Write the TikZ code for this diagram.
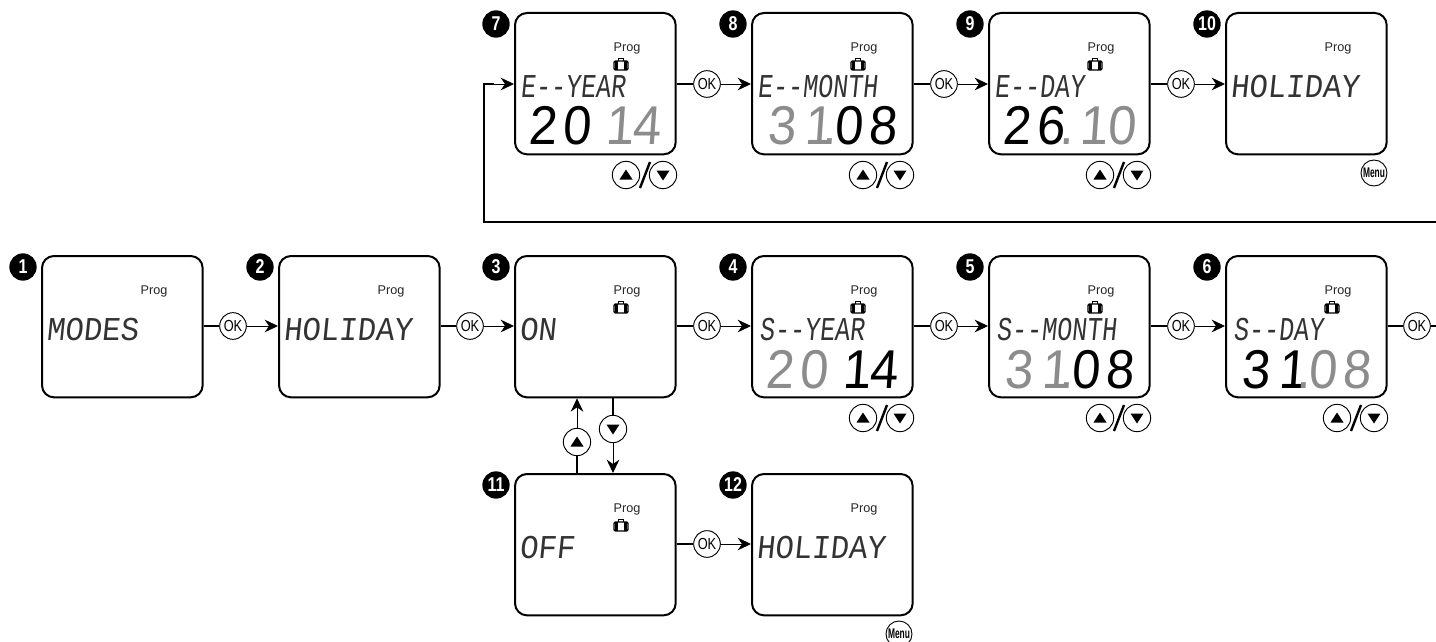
\documentclass[tikz,border=0pt]{standalone}
\usepackage{fontspec}
\setmainfont{Liberation Sans}
\newfontfamily\lcdA[FakeSlant=0.1,FakeStretch=0.75]{Liberation Mono}
\newfontfamily\lcdB[FakeSlant=0.1,FakeStretch=0.92]{Liberation Mono}
\newfontfamily\lcdN[FakeSlant=0.07,FakeStretch=0.93]{Liberation Sans}
\newfontfamily\narrowA[FakeStretch=0.8]{Liberation Sans}
\newfontfamily\narrowB[FakeStretch=0.6]{Liberation Sans}
\usetikzlibrary{arrows.meta,calc}
\definecolor{lcdgray}{gray}{0.55}
\tikzset{
  x=0.75pt,y=-0.75pt,
  screen/.style={draw,line width=1.5pt,rounded corners=9pt,minimum width=120.5pt,minimum height=106pt,anchor=north west,inner sep=0pt},
  badge/.style={circle,fill=black,text=white,minimum size=20.5pt,inner sep=0pt,font=\fontsize{15}{15}\bfseries\narrowA},
  prog/.style={inner sep=0pt,text=black!85,font=\fontsize{9.5}{9.5}\selectfont},
  lcdtext/.style={inner sep=0pt,anchor=west,text=black!80},
  lcdnum/.style={inner sep=0pt,anchor=base west,font=\fontsize{41}{41}\lcdN},
  okbtn/.style={draw,circle,line width=0.7pt,minimum size=20pt,inner sep=0pt,font=\fontsize{12}{12}\narrowA,fill=white},
  btn/.style={draw,circle,line width=0.7pt,minimum size=20.5pt,inner sep=0pt,fill=white},
  menubtn/.style={draw,circle,line width=0.7pt,minimum size=19.5pt,inner sep=0pt,font=\fontsize{10.5}{10.5}\bfseries\narrowB},
  thickl/.style={line width=1.5pt},
  arr/.style={line width=0.7pt,-{Stealth[length=10pt,width=9.5pt]}},
  slash/.style={line width=1.8pt},
  case/.pic={
    \draw[line width=1pt,rounded corners=1pt] (-7,-4) rectangle (7,5);
    \draw[line width=1.6pt] (-4.5,-4) -- (-4.5,5) (4.5,-4) -- (4.5,5);
    \draw[line width=0.9pt] (-2.5,-4) -- (-2.5,-6.5) -- (2.5,-6.5) -- (2.5,-4);
  },
  uptri/.pic={\fill (-6.5,4.5) -- (6.5,4.5) -- (0,-5.5) -- cycle;},
  downtri/.pic={\fill (-6.5,-4.5) -- (6.5,-4.5) -- (0,5.5) -- cycle;},
}
\newcommand\screenbox[4]{%
  \node[screen] (#1) at (#3,#4) {};
  \node[badge] (#1n) at ([shift={(-18,12)}]#1.north west) {#2};
  \node[prog] (#1p) at ([shift={(113,36)}]#1.north west) {Prog};
}
\newcommand\casepic[1]{\pic at ([shift={(107,53)}]#1.north west) {case};}
\newcommand\lcdline[4]{\node[lcdtext] (#1t) at ([shift={(#2,75)}]#1.north west) {\fontsize{25}{25}#3#4};}
\newcommand\updown[1]{%
  \node[btn] (#1u) at ([shift={(112,163)}]#1.north west) {};
  \node[btn] (#1d) at ([shift={(149,163)}]#1.north west) {};
  \pic at (#1u) {uptri};
  \pic at (#1d) {downtri};
  \draw[slash] ([shift={(136,150)}]#1.north west) coordinate (#1s1) -- ([shift={(126,176)}]#1.north west) coordinate (#1s2);
}
% one digit in a cell 34 px wide
\newcommand\dc[1]{\makebox[25.5pt]{#1}}
\newcommand\dotc[1]{\makebox[0pt]{#1}}
\newcommand\numline[2]{\node[lcdnum] (#1v) at ([shift={(11,133)}]#1.north west) {#2};}
% 2014: first pair colour, second pair colour
\newcommand\yearnum[3]{\numline{#1}{\textcolor{#2}{\dc{2}\dc{0}}\textcolor{#3}{\kern7pt\dc{1}\kern-5.5pt\dc{4}}}}
% 31.08 as two runs: "3 1" and ".08"
\newcommand\datenum[3]{%
  \node[lcdnum,text=#2] (#1v) at ([shift={(13,133)}]#1.north west) {\dc{3}\kern2.5pt\dc{1}};
  \node[lcdnum] (#1w) at ([shift={(71,133)}]#1.north west) {\textcolor{lcdgray}{.}\kern-3.5pt\textcolor{#3}{\dc{0}\dc{8}}};
}
\begin{document}
\begin{tikzpicture}
\useasboundingbox (0,0) rectangle (1436,642);
% top row
\screenbox{b7}{7}{514}{12}
\screenbox{b8}{8}{751}{12}
\screenbox{b9}{9}{988}{12}
\screenbox{b10}{10}{1225}{12}
% middle row
\screenbox{b1}{1}{41}{255}
\screenbox{b2}{2}{278}{255}
\screenbox{b3}{3}{514}{255}
\screenbox{b4}{4}{751}{255}
\screenbox{b5}{5}{988}{255}
\screenbox{b6}{6}{1225}{255}
% bottom row
\screenbox{b11}{11}{514}{473}
\screenbox{b12}{12}{751}{473}
% suitcases
\casepic{b3}\casepic{b4}\casepic{b5}\casepic{b6}\casepic{b7}\casepic{b8}\casepic{b9}\casepic{b11}
% lcd text
\lcdline{b1}{5}{\lcdB}{MODES}
\lcdline{b2}{5}{\lcdB}{HOLIDAY}
\lcdline{b3}{5}{\lcdB}{ON}
\lcdline{b4}{8}{\lcdA}{S{-}{-}YEAR}
\lcdline{b5}{8}{\lcdA}{S{-}{-}MONTH}
\lcdline{b6}{8}{\lcdA}{S{-}{-}DAY}
\lcdline{b7}{6}{\lcdA}{E{-}{-}YEAR}
\lcdline{b8}{6}{\lcdA}{E{-}{-}MONTH}
\lcdline{b9}{6}{\lcdA}{E{-}{-}DAY}
\lcdline{b10}{5}{\lcdB}{HOLIDAY}
\lcdline{b11}{5}{\lcdB}{OFF}
\lcdline{b12}{5}{\lcdB}{HOLIDAY}
% numbers
\yearnum{b7}{black}{lcdgray}
\yearnum{b4}{lcdgray}{black}
\datenum{b8}{lcdgray}{black}
\datenum{b5}{lcdgray}{black}
\datenum{b6}{black}{lcdgray}
\numline{b9}{\dc{2}\dc{6}\kern-.75pt\textcolor{lcdgray}{\dotc{.}\kern8pt\dc{1}\kern-5pt\dc{0}}}
% up/down and menu buttons
\updown{b4}\updown{b5}\updown{b6}\updown{b7}\updown{b8}\updown{b9}
\node[menubtn] (m10) at ([shift={(149,161)}]b10.north west) {Menu};
\node[menubtn] (m12) at ([shift={(148,161)}]b12.north west) {Menu};
% OK buttons
\node[okbtn] (k1) at (233,326) {OK};
\node[okbtn] (k2) at (470,326) {OK};
\node[okbtn] (k3) at (707,326) {OK};
\node[okbtn] (k4) at (944,326) {OK};
\node[okbtn] (k5) at (1181,326) {OK};
\node[okbtn] (k6) at (1417,326) {OK};
\node[okbtn] (k7) at (707,84) {OK};
\node[okbtn] (k8) at (944,84) {OK};
\node[okbtn] (k9) at (1181,84) {OK};
\node[okbtn] (k11) at (707,544) {OK};
% connectors
\draw[thickl] (b1.east |- k1) -- (k1);
\draw[arr] (k1) -- (k1 -| b2.west);
\draw[thickl] (b2.east |- k2) -- (k2);
\draw[arr] (k2) -- (k2 -| b3.west);
\draw[thickl] (b3.east |- k3) -- (k3);
\draw[arr] (k3) -- (k3 -| b4.west);
\draw[thickl] (b4.east |- k4) -- (k4);
\draw[arr] (k4) -- (k4 -| b5.west);
\draw[thickl] (b5.east |- k5) -- (k5);
\draw[arr] (k5) -- (k5 -| b6.west);
\draw[thickl] (b6.east |- k6) -- (k6);
\draw[thickl] (b7.east |- k7) -- (k7);
\draw[arr] (k7) -- (k7 -| b8.west);
\draw[thickl] (b8.east |- k8) -- (k8);
\draw[arr] (k8) -- (k8 -| b9.west);
\draw[thickl] (b9.east |- k9) -- (k9);
\draw[arr] (k9) -- (k9 -| b10.west);
\draw[thickl] (b11.east |- k11) -- (k11);
\draw[arr] (k11) -- (k11 -| b12.west);
% repeat line
\coordinate (outA) at (1436,326);
\coordinate (outB) at (1436,222);
\coordinate (corner) at (484,222);
\draw[thickl] (k6) -- (outA);
\draw[thickl] (outB) -- (corner) -- (corner |- k7) -- ++(10,0);
\draw[arr] (corner |- k7) -- (k7 -| b7.west);
% on/off buttons
\node[btn] (up) at (577,442) {};
\node[btn] (down) at (613,429) {};
\pic at (up) {uptri};
\pic at (down) {downtri};
\draw[thickl] (up |- b11.north) -- (up.south);
\draw[arr] (up.north) -- (up |- b3.south);
\draw[thickl] (down |- b3.south) -- (down.north);
\draw[arr] (down.south) -- (down |- b11.north);
\end{tikzpicture}
\end{document}
